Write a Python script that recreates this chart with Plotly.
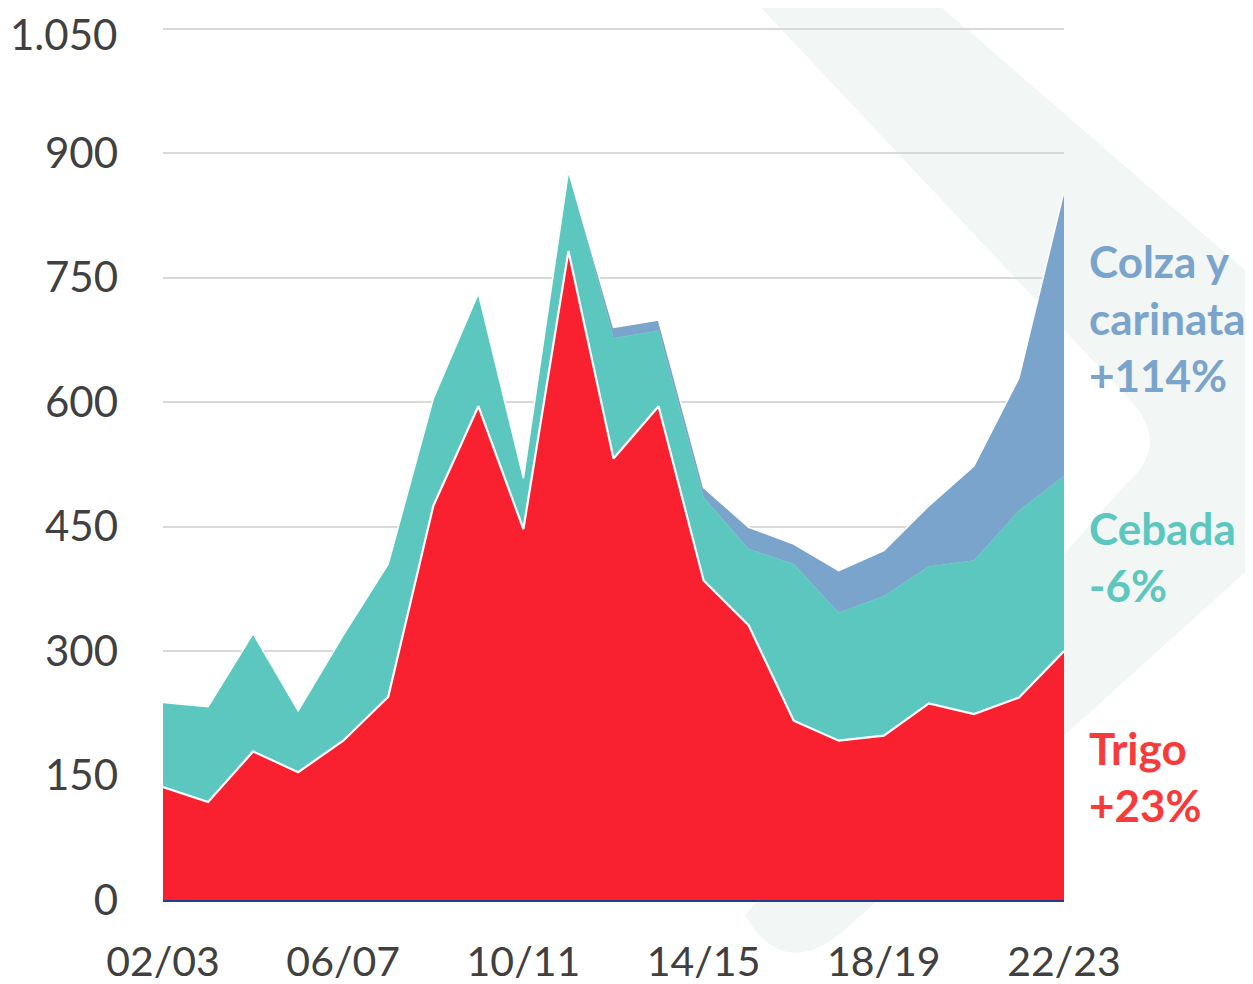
import plotly.graph_objects as go

# ---------------- data ----------------
seasons = ["02/03", "03/04", "04/05", "05/06", "06/07", "07/08", "08/09", "09/10",
           "10/11", "11/12", "12/13", "13/14", "14/15", "15/16", "16/17", "17/18",
           "18/19", "19/20", "20/21", "21/22", "22/23"]
trigo = [136, 118, 179, 154, 192, 245, 475, 595, 447, 782, 532, 595, 385, 331,
         216, 192, 198, 237, 224, 244, 300]
cebada = [102, 115, 142, 74, 127, 160, 129, 136, 61, 96, 145, 91, 100, 92,
          189, 154, 168, 165, 185, 225, 211]
colza = [0, 0, 0, 0, 0, 0, 0, 0, 0, 0, 13, 13, 12, 26, 24, 51, 55, 73, 114, 160, 343]

y_ticks = [0, 150, 300, 450, 600, 750, 900, 1050]
y_ticktext = ["0", "150", "300", "450", "600", "750", "900", ""]
top_tick_label = "1.050"
x_ticks = ["02/03", "06/07", "10/11", "14/15", "18/19", "22/23"]

labels = [
    ("Colza y<br>carinata<br>+114%", "#7BA4CC", 0.667),
    ("Cebada<br>-6%", "#5BC7BF", 0.394),
    ("Trigo<br>+23%", "#F93A3A", 0.142),
]

RED = "#F9212F"
TEAL = "#5BC7BF"
BLUE = "#7BA4CC"

# ---------------- layout geometry ----------------
# the page adds an 8px offset around the figure, so margins are shifted by 8px
OFF = 8
W, H = 1253, 984
ML, MT = 163 - OFF, 27 - OFF
MR = W - (1064 - OFF)
MB = H - (900 - OFF)
PW, PH = W - ML - MR, H - MT - MB
YMAX = 1052


def px2paper(px, py):
    fx, fy = px - OFF, py - OFF
    return (fx - ML) / PW, (H - MB - fy) / PH


def path_from(cmds):
    out = []
    for c in cmds:
        op = c[0]
        pts = c[1:]
        s = op
        for (px, py) in pts:
            x, y = px2paper(px, py)
            s += f" {x:.4f},{y:.4f}"
        out.append(s)
    return " ".join(out) + " Z"


watermark = path_from([
    ("M", (735, -20)),
    ("L", (910, -20)),
    ("L", (1253, 277)),
    ("L", (1300, 330)),
    ("Q", (1335, 430), (1290, 520)),
    ("L", (1253, 565)),
    ("L", (1067, 733)),
    ("L", (850, 925)),
    ("Q", (785, 985), (745, 915)),
    ("L", (1125, 485)),
    ("Q", (1172, 445), (1130, 400)),
])

fig = go.Figure()
fig.add_trace(go.Scatter(x=seasons, y=trigo, name="Trigo", mode="lines",
                         stackgroup="one", fillcolor=RED,
                         line=dict(color="white", width=2.2)))
fig.add_trace(go.Scatter(x=seasons, y=cebada, name="Cebada", mode="lines",
                         stackgroup="one", fillcolor=TEAL,
                         line=dict(color=TEAL, width=0.5)))
fig.add_trace(go.Scatter(x=seasons, y=colza, name="Colza y carinata", mode="lines",
                         stackgroup="one", fillcolor=BLUE,
                         line=dict(color="white", width=1.5)))

for text, color, yp in labels:
    fig.add_annotation(text=text, xref="paper", yref="paper",
                       x=(1087 - OFF - ML) / PW, y=yp, xanchor="left", yanchor="middle",
                       align="left", showarrow=False,
                       font=dict(family="Lato", size=44, color=color, weight="bold"))

# top y tick label, kept fully inside the figure
fig.add_annotation(text=top_tick_label, xref="paper", yref="paper",
                   x=(118 - OFF - ML) / PW, y=(H - MB) / PH,
                   xanchor="right", yanchor="top", showarrow=False,
                   borderpad=0,
                   font=dict(family="Lato", size=42, color="#404040"))

fig.update_layout(
    width=W, height=H,
    margin=dict(l=ML, r=MR, t=MT, b=MB, autoexpand=False),
    paper_bgcolor="white",
    plot_bgcolor="rgba(0,0,0,0)",
    showlegend=False,
    font=dict(family="Lato", color="#404040"),
    shapes=[dict(type="path", path=watermark, xref="paper", yref="paper",
                 fillcolor="#F2F6F5", line=dict(width=0), layer="below")],
    xaxis=dict(
        type="category", range=[0, 20], automargin=False,
        tickmode="array", tickvals=x_ticks, ticktext=x_ticks,
        showgrid=False, ticks="", ticklabelstandoff=25,
        ticklabeloverflow="allow",
        tickfont=dict(family="Lato", size=41, color="#404040"),
        showline=True, linecolor="#1F3E8C", linewidth=1.5,
        zeroline=False,
    ),
    yaxis=dict(
        range=[0, YMAX], automargin=False,
        tickmode="array", tickvals=y_ticks, ticktext=y_ticktext,
        showgrid=True, gridcolor="#D9D9D9", gridwidth=1.5,
        zeroline=False, showline=False, ticks="",
        ticklabelstandoff=44, ticklabeloverflow="allow",
        tickfont=dict(family="Lato", size=42, color="#404040"),
    ),
)

fig.write_html("out.html")
